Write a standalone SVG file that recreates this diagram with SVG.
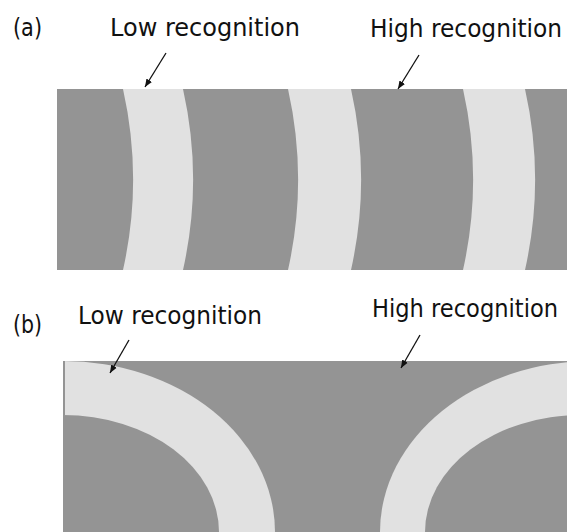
<svg xmlns="http://www.w3.org/2000/svg" width="567" height="532" viewBox="0 0 567 532">
  <style>
    .lbl { font-family: "DejaVu Sans", "Liberation Sans", sans-serif; font-size: 24px; fill: #111111; }
    .dark { fill: #949494; }
    .light { fill: #e1e1e1; }
    .arrow { stroke: #111111; stroke-width: 1.3; fill: none; marker-end: url(#ah); }
  </style>
  <defs>
    <marker id="ah" markerUnits="userSpaceOnUse" markerWidth="10" markerHeight="10" refX="8" refY="4" orient="auto">
      <path d="M0,0.8 L8,4 L0,7.2 Z" fill="#111111"/>
    </marker>
    <clipPath id="clipB">
      <rect x="63" y="361" width="504" height="171"/>
    </clipPath>
  </defs>
  <rect width="567" height="532" fill="#ffffff"/>

  <g id="panel-a">
    <rect class="dark" x="57" y="89" width="510" height="181"/>
    <path id="band-a1" class="light" d="M123,89 A414,414 0 0 1 123,270 L183,270 A414,414 0 0 0 183,89 Z"/>
    <path id="band-a2" class="light" d="M288,89 A414,414 0 0 1 288,270 L351,270 A414,414 0 0 0 351,89 Z"/>
    <path id="band-a3" class="light" d="M463,89 A414,414 0 0 1 463,270 L525,270 A414,414 0 0 0 525,89 Z"/>
  </g>

  <g id="panel-b">
    <rect class="dark" x="63" y="361" width="504" height="171"/>
    <g clip-path="url(#clipB)">
      <ellipse id="arc-b-left" class="light" cx="63" cy="532" rx="212" ry="171"/>
      <ellipse class="dark" cx="63" cy="532" rx="156" ry="117"/>
      <ellipse id="arc-b-right" class="light" cx="592" cy="532" rx="212" ry="171"/>
      <ellipse class="dark" cx="581" cy="532" rx="156" ry="117"/>
    </g>
    <rect class="dark" x="63" y="361" width="2" height="54"/>
  </g>

  <g id="labels">
    <text class="lbl" x="13" y="36" textLength="29" lengthAdjust="spacingAndGlyphs">(a)</text>
    <text class="lbl" x="110" y="36" font-size="23.9" textLength="190" lengthAdjust="spacingAndGlyphs">Low recognition</text>
    <text class="lbl" x="370" y="37" font-size="23.2" textLength="192" lengthAdjust="spacingAndGlyphs">High recognition</text>
    <text class="lbl" x="13" y="333" textLength="29" lengthAdjust="spacingAndGlyphs">(b)</text>
    <text class="lbl" x="78" y="324" font-size="23.1" textLength="184" lengthAdjust="spacingAndGlyphs">Low recognition</text>
    <text class="lbl" x="372" y="317" font-size="22.4" textLength="186" lengthAdjust="spacingAndGlyphs">High recognition</text>
  </g>

  <g id="connectors">
    <line class="arrow" x1="166" y1="53" x2="145" y2="87"/>
    <line class="arrow" x1="419" y1="55" x2="398" y2="89"/>
    <line class="arrow" x1="129" y1="340" x2="110" y2="373"/>
    <line class="arrow" x1="420" y1="335" x2="401" y2="368"/>
  </g>
</svg>
